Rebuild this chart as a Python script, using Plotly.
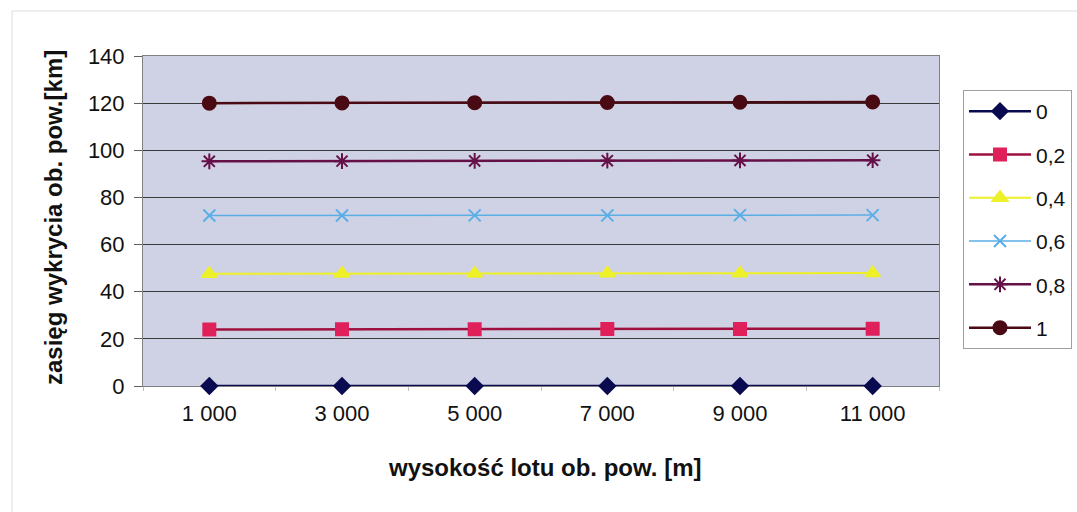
import plotly.graph_objects as go

categories = ["1 000", "3 000", "5 000", "7 000", "9 000", "11 000"]
series_names = ["0", "0,2", "0,4", "0,6", "0,8", "1"]
s_0 = [0, 0, 0, 0, 0, 0]
s_02 = [24.0, 24.1, 24.1, 24.2, 24.2, 24.3]
s_04 = [47.6, 47.7, 47.7, 47.8, 47.8, 47.9]
s_06 = [72.3, 72.3, 72.4, 72.4, 72.5, 72.5]
s_08 = [95.3, 95.4, 95.5, 95.6, 95.7, 95.8]
s_1 = [120.0, 120.1, 120.2, 120.3, 120.4, 120.5]
y_ticks = [0, 20, 40, 60, 80, 100, 120, 140]

W, H = 1077, 512
L, R, T, B = 143, 939, 56, 386

def px(x):
    return (x - L) / (R - L)

def py(y):
    return (B - y) / (B - T)

styles = [
    dict(line="#0A0A50", marker="#0A0A50", symbol="diamond", size=12, lw=2.5),
    dict(line="#A0103E", marker="#E0205A", symbol="square", size=12, lw=2.5),
    dict(line="#EEF028", marker="#EEF028", symbol="triangle-up", size=13, lw=2),
    dict(line="#5AAEE6", marker="#5AAEE6", symbol="x-thin-open", size=12, lw=1.5),
    dict(line="#661048", marker="#661048", symbol="asterisk-open", size=13, lw=2.5),
    dict(line="#4A0A14", marker="#4A0A14", symbol="circle", size=13, lw=2.5),
]
data = [s_0, s_02, s_04, s_06, s_08, s_1]

fig = go.Figure()
for name, vals, st in zip(series_names, data, styles):
    fig.add_trace(go.Scatter(
        x=categories, y=vals, name=name, mode="lines+markers",
        legendgroup=name,
        line=dict(color=st["line"], width=st["lw"]),
        marker=dict(symbol=st["symbol"], size=st["size"], color=st["marker"],
                    line=dict(color=st["marker"], width=2)),
        cliponaxis=False,
    ))

fig.update_layout(
    width=W, height=H,
    margin=dict(l=L, r=W - R, t=T, b=H - B, pad=0, autoexpand=False),
    paper_bgcolor="white",
    plot_bgcolor="#CFD2E5",
    font=dict(family="Arial, Liberation Sans, sans-serif", size=21, color="#111111"),
    showlegend=True,
    legend=dict(
        x=px(963), y=py(90), xanchor="left", yanchor="top",
        bgcolor="white", bordercolor="#A0A0A0", borderwidth=1,
        font=dict(size=21), itemwidth=62, tracegroupgap=13,
        entrywidth=130, entrywidthmode="pixels",
    ),
    xaxis=dict(
        type="category", range=[-0.5, 5.5],
        showgrid=False, zeroline=False, automargin=False,
        showline=True, linecolor="#808080", linewidth=1, mirror=True,
        ticks="outside", tickson="boundaries", ticklen=4, tickcolor="#C0C0CC",
        ticklabelstandoff=8, layer="below traces",
        tickfont=dict(size=22),
    ),
    yaxis=dict(
        range=[0, 140], tickvals=y_ticks, showgrid=True, gridcolor="#3A3A3A",
        gridwidth=1, zeroline=False, showline=True, linecolor="#808080",
        linewidth=1, mirror=True, ticks="outside", ticklen=8, tickcolor="#606060",
        ticklabelstandoff=5, layer="below traces", automargin=False,
        tickfont=dict(size=22),
    ),
    annotations=[
        dict(text="<b>wysokość lotu ob. pow. [m]</b>", xref="paper", yref="paper",
             x=px(544), y=py(467), xanchor="center", yanchor="middle",
             showarrow=False, font=dict(size=24)),
        dict(text="<b>zasięg wykrycia ob. pow.[km]</b>", xref="paper", yref="paper",
             x=px(53), y=py(218), xanchor="center", yanchor="middle",
             textangle=-90, showarrow=False, font=dict(size=24)),
    ],
    shapes=[
        dict(type="rect", xref="paper", yref="paper",
             x0=px(12), x1=px(1100), y0=py(530), y1=py(11),
             line=dict(color="#DCDCDC", width=1), fillcolor="rgba(0,0,0,0)",
             layer="below"),
    ],
)

fig.write_html("out.html")
